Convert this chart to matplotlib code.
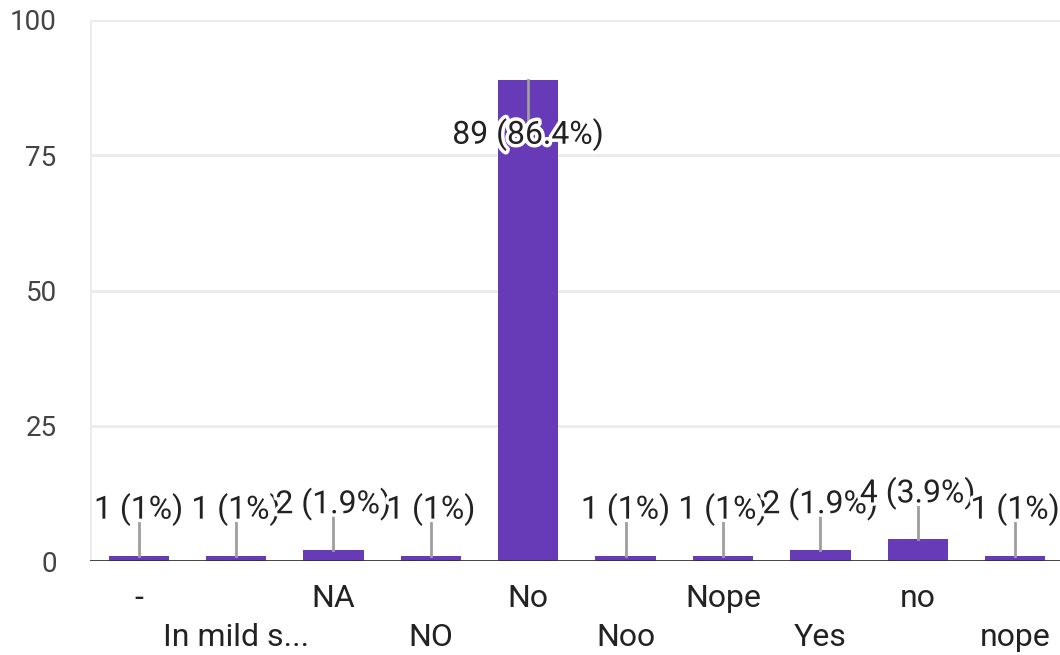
import matplotlib
matplotlib.use("Agg")
import matplotlib.pyplot as plt
import matplotlib.patheffects as pe
import numpy as np

plt.rcParams['font.family'] = ['Roboto', 'DejaVu Sans']

answers = ["-", "In mild s...", "NA", "NO", "No", "Noo", "Nope", "Yes", "no", "nope"]
counts = [1, 1, 2, 1, 89, 1, 1, 2, 4, 1]
y_ticks = [0, 25, 50, 75, 100]

total = sum(counts)
x = np.arange(len(answers))

fig = plt.figure(figsize=(10.6, 6.55), dpi=100)
ax = fig.add_axes([90 / 1060, 1 - 561 / 655, 1 - 90 / 1060, (561 - 20) / 655])

ax.bar(x, counts, width=0.62, color='#673ab7', zorder=2)
ax.set_xlim(-0.5, 9.46)
ax.set_ylim(0, 100)

# grid + baseline
for t in y_ticks[1:]:
    ax.axhline(t, color='#ebebeb', lw=2, zorder=0)
ax.axhline(0, color='#333333', lw=2, zorder=3)
ax.axvline(-0.5, color='#ebebeb', lw=2, zorder=0)
for s in ax.spines.values():
    s.set_visible(False)

ax.set_yticks(y_ticks)
ax.tick_params(axis='y', length=0, pad=24, labelsize=20, labelcolor='#444444')
ax.set_xticks([])

# staggered category labels
for i, name in enumerate(answers):
    row_y = -7.0 if i % 2 == 0 else -14.2
    ax.text(i, row_y, name, ha='center', va='center', fontsize=23,
            color='#222222', clip_on=False)

# value labels with leader lines (labels overlap their neighbours)
stroke = [pe.withStroke(linewidth=5, foreground='white')]
for i, v in enumerate(counts):
    pct = f"{100 * v / total:.1f}".rstrip('0').rstrip('.')
    label = f"{v} ({pct}%)"
    if v > 50:
        line_end, label_y = v - 7.5, v - 10.2
    else:
        line_end, label_y = v + 6.3, v + 8.5
    ax.plot([i, i], [v, line_end], color='#9e9e9e', lw=2, zorder=4)
    ax.text(i, label_y, label, ha='center', va='center', fontsize=23,
            color='#222222', path_effects=stroke, zorder=5)

fig.savefig("out.png", dpi=100)
